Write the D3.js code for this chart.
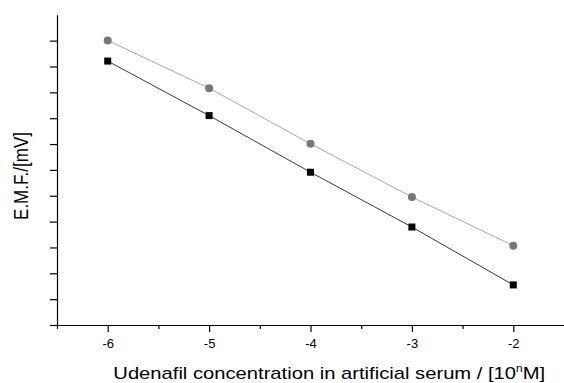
<!DOCTYPE html>
<html>
<head>
<meta charset="utf-8">
<script src="https://cdn.jsdelivr.net/npm/d3@7"></script>
<style>
  body { margin: 0; background: #fff; }
  text { font-family: "Liberation Sans", Arial, sans-serif; }
</style>
</head>
<body>
<svg id="chart" width="564" height="383"></svg>
<script>
//-- data --//
var logConc = [-6, -5, -4, -3, -2];
var emfGray = [11.01, 9.16, 7.01, 4.95, 3.07];
var emfBlack = [10.21, 8.10, 5.91, 3.79, 1.55];
var xTickLabels = [-6, -5, -4, -3, -2];
//-- data --//

var svg = d3.select("#chart");

var x = d3.scaleLinear().domain([-6.5, -1.5]).range([57, 564]);
var y = d3.scaleLinear().domain([0, 12]).range([325, 14.8]);

//-- x axis --//
var xAxis = svg.append("g")
    .attr("transform", "translate(0,325)")
    .call(d3.axisBottom(x).tickValues(xTickLabels).tickSize(7).tickSizeOuter(0).tickPadding(7)
        .tickFormat(function(d) { return String(d); }));
svg.append("g")
    .attr("transform", "translate(0,325)")
    .call(d3.axisBottom(x).tickValues([-6.5, -5.5, -4.5, -3.5, -2.5]).tickSize(4).tickSizeOuter(0).tickFormat(""))
    .select(".domain").remove();
xAxis.selectAll("text")
    .style("font-size", "13px")
    .attr("fill", "#000");

//-- y axis --//
svg.append("g")
    .attr("transform", "translate(57,0)")
    .call(d3.axisLeft(y).tickValues(d3.range(0, 12)).tickSize(7).tickSizeOuter(0).tickFormat(""));

svg.selectAll(".domain, .tick line").attr("stroke", "#000").attr("stroke-width", 1.2);

//-- lines --//
var line = d3.line()
    .x(function(d, i) { return x(logConc[i]); })
    .y(function(d) { return y(d); });

svg.append("path").datum(emfGray)
    .attr("fill", "none").attr("stroke", "#a8a8a8").attr("stroke-width", 1)
    .attr("d", line);
svg.append("path").datum(emfBlack)
    .attr("fill", "none").attr("stroke", "#3a3a3a").attr("stroke-width", 1)
    .attr("d", line);

svg.selectAll("circle.gray").data(emfGray).enter().append("circle")
    .attr("class", "gray")
    .attr("cx", function(d, i) { return x(logConc[i]); })
    .attr("cy", function(d) { return y(d); })
    .attr("r", 4)
    .attr("fill", "#777");

svg.selectAll("rect.black").data(emfBlack).enter().append("rect")
    .attr("class", "black")
    .attr("x", function(d, i) { return x(logConc[i]) - 3.5; })
    .attr("y", function(d) { return y(d) - 3.5; })
    .attr("width", 7).attr("height", 7)
    .attr("fill", "#000");

//-- titles --//
var yTitle = svg.append("g");
var yt = yTitle.append("text")
    .attr("text-anchor", "middle")
    .style("font-size", "17px")
    .text("E.M.F./[mV]");
var yw = yt.node().getComputedTextLength();
yt.style("font-size", (17 * 88 / yw) + "px");
yTitle.attr("transform", "translate(28.3,176) scale(1.15,1) rotate(-90)");

var xTitle = svg.append("g");
var xt = xTitle.append("text")
    .style("font-size", "17px");
xt.append("tspan").text("Udenafil concentration in artificial serum / [10");
xt.append("tspan").attr("dy", -7).style("font-size", "10px").text("n");
xt.append("tspan").attr("dy", 7).text("M]");
var xw = xt.node().getBBox().width;
xTitle.attr("transform", "translate(113.3,379) scale(" + (432 / xw) + ",1)");
</script>
</body>
</html>
